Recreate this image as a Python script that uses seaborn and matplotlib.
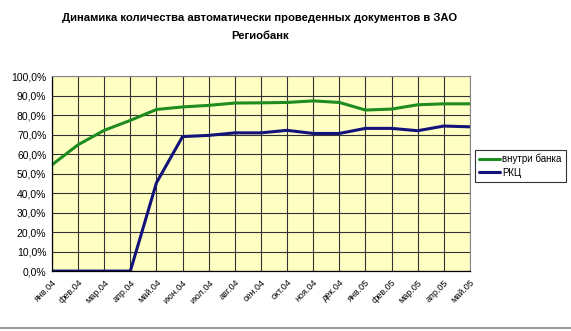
import matplotlib
matplotlib.use("Agg")
import matplotlib.pyplot as plt
import seaborn as sns
import pandas as pd
from matplotlib.ticker import FuncFormatter, MultipleLocator

months = ["янв.04", "фев.04", "мар.04", "апр.04", "май.04", "июн.04", "июл.04",
          "авг.04", "сен.04", "окт.04", "ноя.04", "дек.04", "янв.05", "фев.05",
          "мар.05", "апр.05", "май.05"]
inside_bank = [54.5, 64.8, 72.2, 77.3, 82.9, 84.2, 85.0, 86.2, 86.3, 86.5,
               87.3, 86.5, 82.6, 83.1, 85.3, 85.8, 85.8]
rkc = [0, 0, 0, 0, 45.3, 69.0, 69.6, 70.9, 70.9, 72.2, 70.6, 70.6, 73.2,
       73.2, 72.0, 74.4, 74.0]
series_names = ["внутри банка", "РКЦ"]
title = "Динамика количества автоматически проведенных документов в ЗАО\nРегиобанк"

df = pd.DataFrame({
    "idx": list(range(len(months))) * 2,
    "value": inside_bank + rkc,
    "series": [series_names[0]] * len(months) + [series_names[1]] * len(months),
})

sns.set_theme(style="white")
plt.rcParams["font.family"] = ["Liberation Sans", "DejaVu Sans"]
plt.rcParams["text.color"] = "black"
plt.rcParams["xtick.color"] = "black"
plt.rcParams["ytick.color"] = "black"

fig = plt.figure(figsize=(5.71, 3.31), dpi=100)
ax = fig.add_axes([0.091, 0.181, 0.732, 0.589])
ax.set_facecolor("#FFFFC4")

sns.lineplot(data=df, x="idx", y="value", hue="series",
             palette={series_names[0]: "#1E8C1E", series_names[1]: "#12127A"},
             linewidth=2.2, ax=ax, legend=True)

ax.set_xlim(0, len(months) - 1)
ax.set_ylim(0, 100)
ax.yaxis.set_major_locator(MultipleLocator(10))
ax.yaxis.set_major_formatter(FuncFormatter(lambda v, p: f"{v:.1f}%".replace(".", ",")))
ax.set_xticks(range(len(months)))
ax.set_xticklabels(months, rotation=45, ha="right", rotation_mode="anchor", fontsize=6.5)
ax.tick_params(axis="y", labelsize=7.5, length=3, width=0.8, color="black", direction="out", pad=1)
ax.tick_params(axis="x", length=3, width=0.8, color="black", direction="out", pad=2)
ax.set_xlabel("")
ax.set_ylabel("")
ax.grid(True, color="#333333", linewidth=0.8)
ax.set_axisbelow(True)
for s in ["top", "right"]:
    ax.spines[s].set_color("#888888")
    ax.spines[s].set_linewidth(0.8)
for s in ["left", "bottom"]:
    ax.spines[s].set_color("black")
    ax.spines[s].set_linewidth(0.9)

handles, labels = ax.get_legend_handles_labels()
leg = fig.legend(handles, labels, loc="upper left", bbox_to_anchor=(0.832, 0.548),
                 frameon=True, fancybox=False, fontsize=7, handlelength=2.2,
                 handletextpad=0.2, borderpad=0.4, labelspacing=0.4, borderaxespad=0)
if ax.get_legend():
    ax.get_legend().remove()
leg.get_frame().set_edgecolor("black")
leg.get_frame().set_linewidth(0.8)

fig.suptitle(title, x=0.455, y=0.96, fontsize=8.1, fontweight="bold",
             linespacing=2.0, color="black")

fig.add_artist(plt.Line2D([0, 1], [0.008, 0.008], color="#999999", linewidth=1.5,
                          transform=fig.transFigure))

fig.savefig("out.png", dpi=100)
